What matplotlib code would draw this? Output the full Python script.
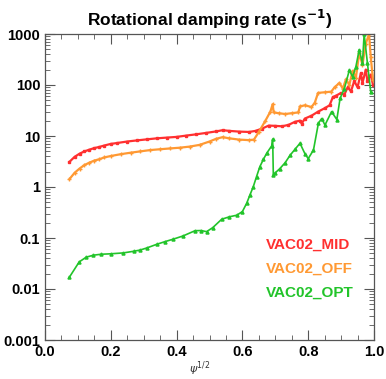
import numpy as np
import matplotlib
matplotlib.use('Agg')
from matplotlib import pyplot as plt
from matplotlib.ticker import LogLocator, MultipleLocator, FixedLocator

plt.rcParams['font.family'] = ['Liberation Sans', 'DejaVu Sans']

# VAC02_MID
x_mid = [0.074, 0.09, 0.105, 0.12, 0.135, 0.15, 0.165, 0.18, 0.2, 0.22, 0.25, 0.28,
         0.31, 0.34, 0.37, 0.40, 0.43, 0.46, 0.49, 0.52, 0.54, 0.56, 0.59, 0.62,
         0.64, 0.66, 0.68, 0.70, 0.72, 0.74, 0.76, 0.775, 0.78, 0.79, 0.81, 0.83,
         0.85, 0.865, 0.875, 0.885, 0.90, 0.91, 0.92, 0.93, 0.94, 0.95, 0.96,
         0.965, 0.975, 0.98, 0.99, 0.997]
y_mid = [3.1, 3.9, 4.5, 5.0, 5.4, 5.8, 6.1, 6.5, 7.0, 7.3, 7.8, 8.2,
         8.6, 9.0, 9.3, 9.6, 10.2, 10.8, 11.5, 12.3, 13.0, 12.6, 12.2, 12.0,
         12.6, 14.0, 16.0, 15.8, 15.5, 16.5, 19.0, 20.0, 17.5, 22, 25, 30,
         35, 40, 58, 62, 70, 65, 90, 75, 120, 90, 170,
         110, 200, 120, 160, 100]

# VAC02_OFF
x_off = [0.074, 0.09, 0.105, 0.12, 0.135, 0.15, 0.165, 0.18, 0.2, 0.23, 0.26, 0.29,
         0.32, 0.35, 0.38, 0.41, 0.44, 0.47, 0.50, 0.52, 0.54, 0.56, 0.59, 0.62,
         0.635, 0.65, 0.67, 0.685, 0.692, 0.695, 0.71, 0.73, 0.75, 0.77, 0.775,
         0.79, 0.81, 0.82, 0.83, 0.85, 0.87, 0.88, 0.895, 0.905, 0.915, 0.925,
         0.935, 0.945, 0.955, 0.965, 0.975, 0.985, 0.99, 0.997]
y_off = [1.42, 1.9, 2.3, 2.7, 3.0, 3.3, 3.5, 3.8, 4.05, 4.4, 4.7, 5.0,
         5.3, 5.5, 5.7, 5.9, 6.2, 6.7, 7.8, 8.8, 9.5, 9.0, 8.5, 8.3,
         8.5, 12, 20, 30, 42, 29, 28, 27, 28, 29, 38,
         40, 37, 45, 70, 72, 74, 90, 110, 85, 130, 100,
         190, 140, 420, 250, 650, 1000, 360, 125]

# VAC02_OPT
x_opt = [0.074, 0.104, 0.125, 0.147, 0.17, 0.2, 0.238, 0.27, 0.289, 0.31, 0.339,
         0.365, 0.39, 0.42, 0.456, 0.475, 0.491, 0.51, 0.537, 0.56, 0.583, 0.60,
         0.613, 0.623, 0.633, 0.643, 0.653, 0.664, 0.674, 0.689, 0.692, 0.694,
         0.70, 0.714, 0.73, 0.745, 0.76, 0.775, 0.79, 0.80, 0.816, 0.831, 0.841,
         0.851, 0.871, 0.887, 0.897, 0.91, 0.925, 0.935, 0.945, 0.955, 0.965,
         0.97, 0.98, 0.99]
y_opt = [0.017, 0.034, 0.042, 0.046, 0.048, 0.049, 0.051, 0.055, 0.058, 0.064, 0.075,
         0.085, 0.095, 0.11, 0.139, 0.14, 0.133, 0.16, 0.233, 0.26, 0.28, 0.33,
         0.48, 0.7, 1.01, 1.6, 2.5, 3.5, 4.6, 6.4, 8.7, 1.72,
         1.9, 2.3, 3.0, 4.2, 5.5, 7.2, 4.5, 3.6, 5.3, 17.8, 22,
         16.4, 30, 21, 55, 85, 195, 145, 230, 490, 270,
         1000, 270, 74]

names = ['VAC02_MID', 'VAC02_OFF', 'VAC02_OPT']
colors = ['#ff3030', '#ff9933', '#22c42a']

fig = plt.figure(figsize=(3.86, 3.79), dpi=100)
ax = fig.add_axes([45/386, 1-340/379, 329/386, 306/379])

ax.plot(x_mid, y_mid, color=colors[0], lw=1.6, marker='s', ms=2)
ax.plot(x_off, y_off, color=colors[1], lw=1.6, marker='+', ms=3)
ax.plot(x_opt, y_opt, color=colors[2], lw=1.2, marker='^', ms=2.2)

ax.set_yscale('log')
ax.set_xlim(0, 1)
ax.set_ylim(0.001, 1000)
ax.xaxis.set_major_locator(MultipleLocator(0.2))
ax.xaxis.set_minor_locator(MultipleLocator(0.05))
ax.yaxis.set_major_locator(FixedLocator([0.001, 0.01, 0.1, 1, 10, 100, 1000]))
ax.yaxis.set_minor_locator(LogLocator(base=10, subs=np.arange(2, 10), numticks=20))
ax.set_yticklabels(['0.001', '0.01', '0.1', '1', '10', '100', '1000'])
ax.set_xticks([0, 0.2, 0.4, 0.6, 0.8, 1.0])
ax.set_xticklabels(['0.0', '0.2', '0.4', '0.6', '0.8', '1.0'])

ax.tick_params(which='both', direction='in', top=True, right=True, color='#555555')
ax.tick_params(which='major', length=7, width=0.8)
ax.tick_params(which='minor', length=3.5, width=0.6)
for lab in ax.get_xticklabels() + ax.get_yticklabels():
    lab.set_fontweight('bold')
    lab.set_fontsize(10.5)
for s in ax.spines.values():
    s.set_color('#555555')
    s.set_linewidth(0.9)

ax.set_title('Rotational damping rate (s$^{\\mathbf{-1}}$)', fontsize=12.5, fontweight='bold', pad=6)
ax.set_xlabel('$\\psi^{1/2}$', fontsize=8, color='#333333')
ax.xaxis.set_label_coords((200-45)/329, -0.065)

for i, (n, c) in enumerate(zip(names, colors)):
    ax.text(0.67, 0.31 - i*0.078, n, color=c, fontsize=11, fontweight='bold',
            transform=ax.transAxes, va='center')

plt.savefig('out.png', dpi=100)
